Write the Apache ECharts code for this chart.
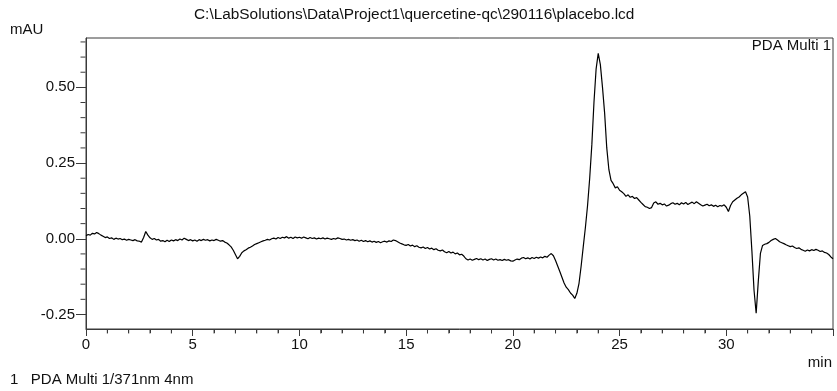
<!DOCTYPE html>
<html>
<head>
<meta charset="utf-8">
<script src="https://cdn.jsdelivr.net/npm/echarts@6/dist/echarts.min.js"></script>
<style>
html,body{margin:0;padding:0;background:#fff;}
#chart{width:837px;height:391px;}
</style>
</head>
<body>
<div id="chart"></div>
<script>
const chartTitle = "C:\\LabSolutions\\Data\\Project1\\quercetine-qc\\290116\\placebo.lcd";
const yAxisName = "mAU";
const xAxisName = "min";
const channelLabel = "PDA Multi 1";
const legendText = "1   PDA Multi 1/371nm 4nm";

const yLabelTicks = [-0.25, 0, 0.25, 0.5];
const yMinorTicks = [-0.2, -0.15, -0.1, -0.05, 0.05, 0.1, 0.15, 0.2, 0.3, 0.35, 0.4, 0.45, 0.55, 0.6, 0.65];
const xMinorTicks = [1, 2, 3, 4, 6, 7, 8, 9, 11, 12, 13, 14, 16, 17, 18, 19, 21, 22, 23, 24, 26, 27, 28, 29, 31, 32, 33, 34];

const retentionTimes = [
0.0,0.1,0.2,0.3,0.4,0.5,0.6,0.7,0.8,0.9,
1.0,1.1,1.2,1.3,1.4,1.5,1.6,1.7,1.8,1.9,
2.0,2.1,2.2,2.3,2.4,2.5,2.6,2.7,2.8,2.9,
3.0,3.1,3.2,3.3,3.4,3.5,3.6,3.7,3.8,3.9,
4.0,4.1,4.2,4.3,4.4,4.5,4.6,4.7,4.8,4.9,
5.0,5.1,5.2,5.3,5.4,5.5,5.6,5.7,5.8,5.9,
6.0,6.1,6.2,6.3,6.4,6.5,6.6,6.7,6.8,6.9,
7.0,7.1,7.2,7.3,7.4,7.5,7.6,7.7,7.8,7.9,
8.0,8.1,8.2,8.3,8.4,8.5,8.6,8.7,8.8,8.9,
9.0,9.1,9.2,9.3,9.4,9.5,9.6,9.7,9.8,9.9,
10.0,10.1,10.2,10.3,10.4,10.5,10.6,10.7,10.8,10.9,
11.0,11.1,11.2,11.3,11.4,11.5,11.6,11.7,11.8,11.9,
12.0,12.1,12.2,12.3,12.4,12.5,12.6,12.7,12.8,12.9,
13.0,13.1,13.2,13.3,13.4,13.5,13.6,13.7,13.8,13.9,
14.0,14.1,14.2,14.3,14.4,14.5,14.6,14.7,14.8,14.9,
15.0,15.1,15.2,15.3,15.4,15.5,15.6,15.7,15.8,15.9,
16.0,16.1,16.2,16.3,16.4,16.5,16.6,16.7,16.8,16.9,
17.0,17.1,17.2,17.3,17.4,17.5,17.6,17.7,17.8,17.9,
18.0,18.1,18.2,18.3,18.4,18.5,18.6,18.7,18.8,18.9,
19.0,19.1,19.2,19.3,19.4,19.5,19.6,19.7,19.8,19.9,
20.0,20.1,20.2,20.3,20.4,20.5,20.6,20.7,20.8,20.9,
21.0,21.1,21.2,21.3,21.4,21.5,21.6,21.7,21.8,21.9,
22.0,22.1,22.2,22.3,22.4,22.5,22.6,22.7,22.8,22.9,
23.0,23.1,23.2,23.3,23.4,23.5,23.6,23.7,23.8,23.9,
24.0,24.1,24.2,24.3,24.4,24.5,24.6,24.7,24.8,24.9,
25.0,25.1,25.2,25.3,25.4,25.5,25.6,25.7,25.8,25.9,
26.0,26.1,26.2,26.3,26.4,26.5,26.6,26.7,26.8,26.9,
27.0,27.1,27.2,27.3,27.4,27.5,27.6,27.7,27.8,27.9,
28.0,28.1,28.2,28.3,28.4,28.5,28.6,28.7,28.8,28.9,
29.0,29.1,29.2,29.3,29.4,29.5,29.6,29.7,29.8,29.9,
30.0,30.1,30.2,30.3,30.4,30.5,30.6,30.7,30.8,30.9,
31.0,31.1,31.2,31.3,31.4,31.5,31.6,31.7,31.8,31.9,
32.0,32.1,32.2,32.3,32.4,32.5,32.6,32.7,32.8,32.9,
33.0,33.1,33.2,33.3,33.4,33.5,33.6,33.7,33.8,33.9,
34.0,34.1,34.2,34.3,34.4,34.5,34.6,34.7,34.8,34.9,
35.0
];

const absorbance = [
0.010,0.014,0.012,0.018,0.016,0.021,0.017,0.012,0.008,0.004,
0.006,0.001,0.003,-0.002,0.002,-0.001,0.001,-0.003,-0.001,-0.005,
-0.002,-0.004,-0.006,-0.003,-0.007,-0.008,-0.011,0.004,0.024,0.012,
0.003,-0.002,0.001,-0.004,-0.002,-0.008,-0.006,-0.010,-0.005,-0.009,
-0.004,-0.007,-0.003,-0.006,-0.001,-0.004,0.002,-0.002,-0.006,-0.003,
-0.007,-0.004,-0.008,-0.003,-0.006,-0.002,-0.005,-0.003,-0.007,-0.004,
-0.006,-0.002,-0.005,-0.008,-0.006,-0.011,-0.014,-0.020,-0.027,-0.038,
-0.052,-0.066,-0.058,-0.046,-0.040,-0.036,-0.031,-0.028,-0.024,-0.019,
-0.016,-0.013,-0.010,-0.007,-0.005,-0.002,-0.004,0.000,0.002,-0.001,
0.004,0.001,0.005,0.003,0.007,0.002,0.005,0.001,0.006,0.003,
0.005,0.002,0.006,0.003,0.000,0.004,0.001,0.003,-0.001,0.002,
0.000,0.003,-0.001,0.002,0.000,-0.002,0.001,-0.001,0.003,0.001,
-0.002,-0.001,-0.004,-0.002,-0.005,-0.003,-0.006,-0.004,-0.008,-0.005,
-0.009,-0.006,-0.010,-0.007,-0.011,-0.008,-0.012,-0.009,-0.013,-0.010,
-0.008,-0.011,-0.007,-0.009,-0.004,-0.006,-0.010,-0.014,-0.017,-0.020,
-0.022,-0.019,-0.024,-0.021,-0.026,-0.023,-0.028,-0.030,-0.027,-0.032,
-0.029,-0.034,-0.031,-0.036,-0.033,-0.038,-0.040,-0.037,-0.043,-0.046,
-0.042,-0.047,-0.044,-0.050,-0.047,-0.053,-0.051,-0.057,-0.066,-0.070,
-0.067,-0.071,-0.068,-0.065,-0.069,-0.066,-0.070,-0.067,-0.072,-0.068,
-0.066,-0.070,-0.067,-0.071,-0.069,-0.072,-0.068,-0.071,-0.069,-0.073,
-0.074,-0.070,-0.067,-0.069,-0.064,-0.062,-0.066,-0.063,-0.067,-0.062,
-0.065,-0.061,-0.064,-0.060,-0.063,-0.058,-0.061,-0.054,-0.049,-0.056,
-0.072,-0.090,-0.108,-0.127,-0.146,-0.160,-0.168,-0.179,-0.186,-0.197,
-0.180,-0.147,-0.090,-0.025,0.038,0.110,0.200,0.310,0.450,0.560,
0.612,0.575,0.500,0.415,0.300,0.228,0.193,0.182,0.168,0.172,
0.160,0.155,0.149,0.140,0.145,0.137,0.140,0.133,0.136,0.128,
0.120,0.113,0.106,0.104,0.100,0.103,0.118,0.122,0.114,0.117,
0.112,0.115,0.108,0.111,0.116,0.119,0.114,0.117,0.112,0.119,
0.115,0.120,0.113,0.117,0.121,0.116,0.122,0.117,0.112,0.108,
0.111,0.114,0.109,0.112,0.107,0.111,0.106,0.110,0.108,0.112,
0.104,0.090,0.110,0.122,0.128,0.134,0.138,0.145,0.150,0.155,
0.138,0.075,-0.040,-0.170,-0.246,-0.140,-0.048,-0.022,-0.018,-0.016,
-0.012,-0.006,-0.002,0.001,-0.004,-0.010,-0.013,-0.016,-0.020,-0.023,
-0.026,-0.024,-0.029,-0.032,-0.030,-0.035,-0.038,-0.041,-0.037,-0.040,
-0.036,-0.039,-0.035,-0.038,-0.042,-0.040,-0.045,-0.047,-0.052,-0.060,
-0.066
];

const seriesData = retentionTimes.map((t, i) => [t, absorbance[i]]);

const FONT = '"Liberation Sans", Arial, sans-serif';
const TXT = '#111';
const AXIS = '#3a3a3a';
const Y_MIN = -0.298, Y_MAX = 0.663;
const X_MIN = 0, X_MAX = 35;

const chart = echarts.init(document.getElementById('chart'), null, {renderer: 'canvas'});
chart.setOption({
  animation: false,
  backgroundColor: '#fff',
  title: {
    text: chartTitle,
    left: 189,
    top: 2,
    textStyle: {fontFamily: FONT, fontSize: 15.4, fontWeight: 'normal', color: TXT}
  },
  grid: {
    left: 86, right: 4, top: 38, bottom: 62,
    show: true, borderColor: AXIS, borderWidth: 1, backgroundColor: 'transparent'
  },
  xAxis: {
    type: 'value',
    min: X_MIN, max: X_MAX, interval: 5,
    axisLine: {show: true, onZero: false, lineStyle: {color: AXIS, width: 1}},
    axisTick: {show: true, length: 7, lineStyle: {color: AXIS}},
    minorTick: {show: true, splitNumber: 5, length: 4, lineStyle: {color: AXIS}},
    splitLine: {show: false},
    minorSplitLine: {show: false},
    axisLabel: {showMaxLabel: false, margin: 8, fontFamily: FONT, fontSize: 15, color: TXT}
  },
  yAxis: {
    type: 'value',
    min: Y_MIN, max: Y_MAX,
    axisLine: {show: true, onZero: false, lineStyle: {color: AXIS, width: 1}},
    axisTick: {show: true, length: 10, customValues: yLabelTicks, lineStyle: {color: AXIS}},
    splitLine: {show: false},
    axisLabel: {
      show: true, customValues: yLabelTicks, margin: 11,
      fontFamily: FONT, fontSize: 15, color: TXT,
      formatter: v => (Math.abs(v) < 1e-9 ? 0 : v).toFixed(2)
    }
  },
  graphic: [
    {type: 'text', style: {text: yAxisName, x: 10, y: 30, align: 'left', verticalAlign: 'middle', font: '15px ' + FONT, fill: TXT}},
    {type: 'text', style: {text: xAxisName, x: 832, y: 363, align: 'right', verticalAlign: 'middle', font: '15px ' + FONT, fill: TXT}},
    {type: 'text', style: {text: channelLabel, x: 831, y: 46, align: 'right', verticalAlign: 'middle', font: '15px ' + FONT, fill: TXT}},
    {type: 'text', style: {text: legendText, x: 10, y: 380, align: 'left', verticalAlign: 'middle', font: '15px ' + FONT, fill: TXT}}
  ],
  series: [{
    type: 'line',
    data: seriesData,
    showSymbol: false,
    symbol: 'none',
    lineStyle: {color: '#000', width: 1.2},
    silent: true
  }, {
    type: 'scatter',
    name: 'yMinorTicks',
    silent: true,
    clip: false,
    z: 10,
    data: yMinorTicks.map(v => [X_MIN, v]),
    symbol: 'rect',
    symbolSize: [5, 1],
    symbolOffset: [-3, 0],
    itemStyle: {color: AXIS, opacity: 1},
    emphasis: {disabled: true}
  }, {
    type: 'scatter',
    name: 'xMinorTicks',
    silent: true,
    clip: false,
    z: 10,
    data: xMinorTicks.map(v => [v, Y_MIN]),
    symbol: 'rect',
    symbolSize: [1, 4],
    symbolOffset: [0, 2.5],
    itemStyle: {color: AXIS, opacity: 1},
    emphasis: {disabled: true}
  }]
});
</script>
</body>
</html>
